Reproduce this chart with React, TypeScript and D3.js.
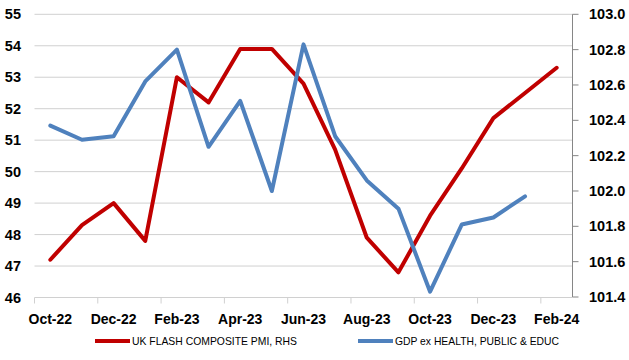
import React from "react";
import * as d3 from "d3";

const months = [
  "Oct-22", "Nov-22", "Dec-22", "Jan-23", "Feb-23", "Mar-23", "Apr-23", "May-23", "Jun-23",
  "Jul-23", "Aug-23", "Sep-23", "Oct-23", "Nov-23", "Dec-23", "Jan-24", "Feb-24",
];
const pmiValues = [47.2, 48.3, 49.0, 47.8, 53.0, 52.2, 53.9, 53.9, 52.8, 50.7, 47.9, 46.8, 48.6, 50.1, 51.7, 52.5, 53.3];
const gdpValues = [102.37, 102.29, 102.31, 102.62, 102.8, 102.25, 102.51, 102.0, 102.83, 102.31, 102.06, 101.9, 101.43, 101.81, 101.85, 101.97];
const leftTicks = [46, 47, 48, 49, 50, 51, 52, 53, 54, 55];
const rightTicks = [101.4, 101.6, 101.8, 102.0, 102.2, 102.4, 102.6, 102.8, 103.0];
const xLabelMonths = ["Oct-22", "Dec-22", "Feb-23", "Apr-23", "Jun-23", "Aug-23", "Oct-23", "Dec-23", "Feb-24"];
const seriesNames = ["UK FLASH COMPOSITE PMI, RHS", "GDP ex HEALTH, PUBLIC & EDUC"];

const W = 629;
const H = 360;
const left = 34.5;
const right = 572.5;
const top = 14.3;
const bottom = 297.5;

export default function App() {
  const x = d3.scaleBand<string>().domain(months).range([left, right]).padding(0);
  const cx = (m: string) => (x(m) as number) + x.bandwidth() / 2;
  const yL = d3.scaleLinear().domain([46, 55]).range([bottom, top]);
  const yR = d3.scaleLinear().domain([101.4, 103.0]).range([bottom - 0.5, top]);

  const pmiLine = d3
    .line<number>()
    .x((_, i) => cx(months[i]))
    .y((d) => yL(d))(pmiValues) as string;
  const gdpLine = d3
    .line<number>()
    .x((_, i) => cx(months[i]))
    .y((d) => yR(d))(gdpValues) as string;

  const font = "'Liberation Sans', Arial, sans-serif";
  const tickIdx = d3.range(0, months.length + 1, 2).filter((i) => i < months.length);

  return (
    <svg
      width={W}
      height={H}
      style={{ position: "absolute", left: 0, top: 0, background: "#fff" }}
      fontFamily={font}
    >
      {leftTicks.map((t) => (
        <line key={"g" + t} x1={left} x2={right} y1={yL(t)} y2={yL(t)} stroke="#d0d0d0" strokeWidth={1} />
      ))}
      {tickIdx.map((i) => (
        <line
          key={"xt" + i}
          x1={(x(months[i]) as number)}
          x2={(x(months[i]) as number)}
          y1={bottom}
          y2={bottom + 6}
          stroke="#d0d0d0"
          strokeWidth={1}
        />
      ))}
      {leftTicks.map((t) => (
        <text key={"lt" + t} x={21} y={yL(t)} textAnchor="end" dominantBaseline="central" fontSize={14.5} fontWeight="bold" fill="#000">
          {t}
        </text>
      ))}
      <line x1={right} x2={right} y1={top} y2={bottom - 0.5} stroke="#868686" strokeWidth={1} />
      {rightTicks.map((t) => (
        <g key={"rt" + t}>
          <line x1={right} x2={right + 6} y1={yR(t)} y2={yR(t)} stroke="#868686" strokeWidth={1} />
          <text x={589} y={yR(t)} dominantBaseline="central" fontSize={14.5} fontWeight="bold" fill="#000">
            {t.toFixed(1)}
          </text>
        </g>
      ))}
      {xLabelMonths.map((m) => (
        <text key={"xl" + m} x={cx(m)} y={319} textAnchor="middle" dominantBaseline="central" fontSize={14} fontWeight="bold" fill="#000">
          {m}
        </text>
      ))}
      <path d={pmiLine} fill="none" stroke="#C00000" strokeWidth={4} strokeLinejoin="round" strokeLinecap="round" />
      <path d={gdpLine} fill="none" stroke="#4F81BD" strokeWidth={4} strokeLinejoin="round" strokeLinecap="round" />
      <line x1={95} x2={130} y1={341} y2={341} stroke="#C00000" strokeWidth={4} />
      <text x={132} y={341} dominantBaseline="central" fontSize={10.4} fill="#000" textLength={165} lengthAdjust="spacingAndGlyphs">
        {seriesNames[0]}
      </text>
      <line x1={358} x2={393} y1={341} y2={341} stroke="#4F81BD" strokeWidth={4} />
      <text x={395} y={341} dominantBaseline="central" fontSize={10.4} fill="#000" textLength={164} lengthAdjust="spacingAndGlyphs">
        {seriesNames[1]}
      </text>
    </svg>
  );
}
